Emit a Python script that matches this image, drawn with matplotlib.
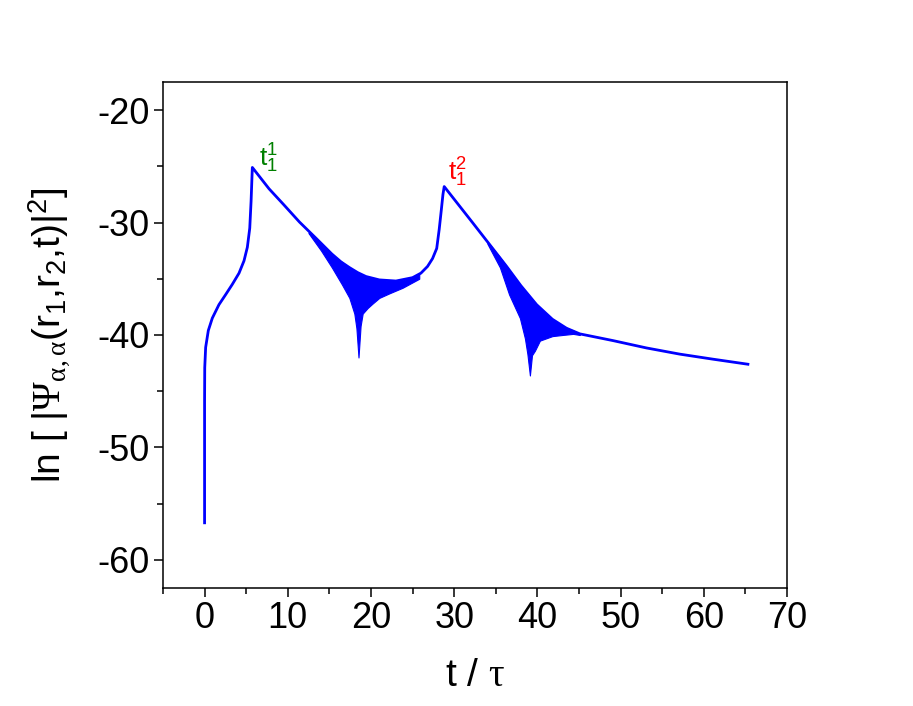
import numpy as np
import matplotlib
matplotlib.use("Agg")
import matplotlib.pyplot as plt
from matplotlib.ticker import MultipleLocator

plt.rcParams['font.family'] = ['Liberation Sans', 'DejaVu Sans']
plt.rcParams['mathtext.fontset'] = 'custom'
plt.rcParams['mathtext.rm'] = 'Liberation Serif'
plt.rcParams['mathtext.it'] = 'Liberation Serif'
plt.rcParams['mathtext.sf'] = 'Liberation Sans'
plt.rcParams['axes.unicode_minus'] = False

# main curve (upper edge through the oscillating parts)
t_main = [0, 0.0, 0.0, 0.02, 0.13, 0.45, 0.93, 1.73, 2.54, 3.33, 4.14, 4.74, 5.14,
          5.43, 5.59, 5.74, 7.75, 9.5, 11.4, 13.4, 15.3, 16.4, 17.4, 18.4, 19.4,
          21.0, 23.0, 25.0, 26.0, 26.8, 27.4, 27.9, 28.2, 28.45, 28.65, 28.8,
          30.5, 32.2, 34.2, 36.3, 38.0, 39.9, 41.8, 43.5, 45.1, 49.1, 53.1, 57.1,
          61.1, 65.3]
ln_main = [-56.7, -50.3, -45.9, -42.9, -41.1, -39.6, -38.5, -37.3, -36.4, -35.5,
           -34.5, -33.4, -32.2, -30.5, -28.1, -25.1, -27.0, -28.4, -29.95, -31.4,
           -32.8, -33.5, -34.0, -34.45, -34.8, -35.1, -35.2, -34.9, -34.5, -33.9,
           -33.2, -32.3, -30.6, -28.9, -27.5, -26.8, -28.4, -30.0, -31.9, -33.9,
           -35.6, -37.3, -38.6, -39.4, -39.9, -40.5, -41.15, -41.7, -42.15, -42.6]

# envelope of the first oscillation band
t_band1 = [12.5, 14.0, 15.3, 16.5, 17.4, 18.0, 18.25, 18.5, 18.75, 19.0, 19.6,
           20.2, 21.0, 22.2, 23.8, 25.8]
lo_band1 = [-30.95, -32.5, -34.0, -35.5, -36.7, -38.1, -39.4, -42.0, -39.2, -38.1,
            -37.6, -37.2, -36.7, -36.3, -35.8, -35.0]
hi_band1 = [-30.9, -32.0, -32.9, -33.5, -34.0, -34.3, -34.4, -34.5, -34.6, -34.7,
            -34.85, -34.95, -35.1, -35.2, -35.15, -34.6]

# envelope of the second oscillation band
t_band2 = [34.0, 35.5, 36.6, 37.9, 38.5, 38.8, 39.1, 39.35, 39.7, 40.3, 41.8,
           43.0, 44.3, 45.1]
lo_band2 = [-31.9, -34.0, -36.4, -38.5, -40.3, -41.7, -43.6, -41.8, -41.4, -40.5,
            -40.1, -40.0, -39.9, -40.0]
hi_band2 = [-31.7, -33.1, -34.2, -35.5, -36.1, -36.3, -36.6, -36.9, -37.1, -37.6,
            -38.6, -39.2, -39.6, -39.9]

fig = plt.figure(figsize=(9.13, 7.06), dpi=100)
ax = fig.add_axes([0.1785, 0.1671, 0.6835, 0.7168])

ax.plot(t_main, ln_main, color='#0000ff', lw=2.0)
ax.fill_between(t_band1, lo_band1, hi_band1, color='#0000ff', lw=0.8)
ax.fill_between(t_band2, lo_band2, hi_band2, color='#0000ff', lw=0.8)

ax.text(6.55, -25.0, r'$\mathsf{t}_\mathsf{1}^\mathsf{1}$', color='#008000',
        fontsize=19, ha='left', va='baseline')
ax.text(29.2, -26.3, r'$\mathsf{t}_\mathsf{1}^\mathsf{2}$', color='#ff0000',
        fontsize=19, ha='left', va='baseline')

ax.set_xlim(-5, 70)
ax.set_ylim(-62.5, -17.5)
ax.xaxis.set_major_locator(MultipleLocator(10))
ax.xaxis.set_minor_locator(MultipleLocator(5))
ax.yaxis.set_major_locator(MultipleLocator(10))
ax.yaxis.set_minor_locator(MultipleLocator(5))
ax.tick_params(which='both', direction='out', width=1.1, top=False, right=False)
ax.tick_params(which='major', length=6.5, labelsize=26, pad=3)
ax.tick_params(which='minor', length=4)
for s in ax.spines.values():
    s.set_linewidth(1.1)

ax.set_xlabel(r't / $\tau$', fontsize=28, labelpad=16)
ax.set_ylabel(r'ln [ |$\Psi_{\alpha,\alpha}$(r$_\mathsf{1}$,r$_\mathsf{2}$,t)|$^\mathsf{2}$]',
              fontsize=28, labelpad=18)

fig.savefig('out.png', dpi=100)
